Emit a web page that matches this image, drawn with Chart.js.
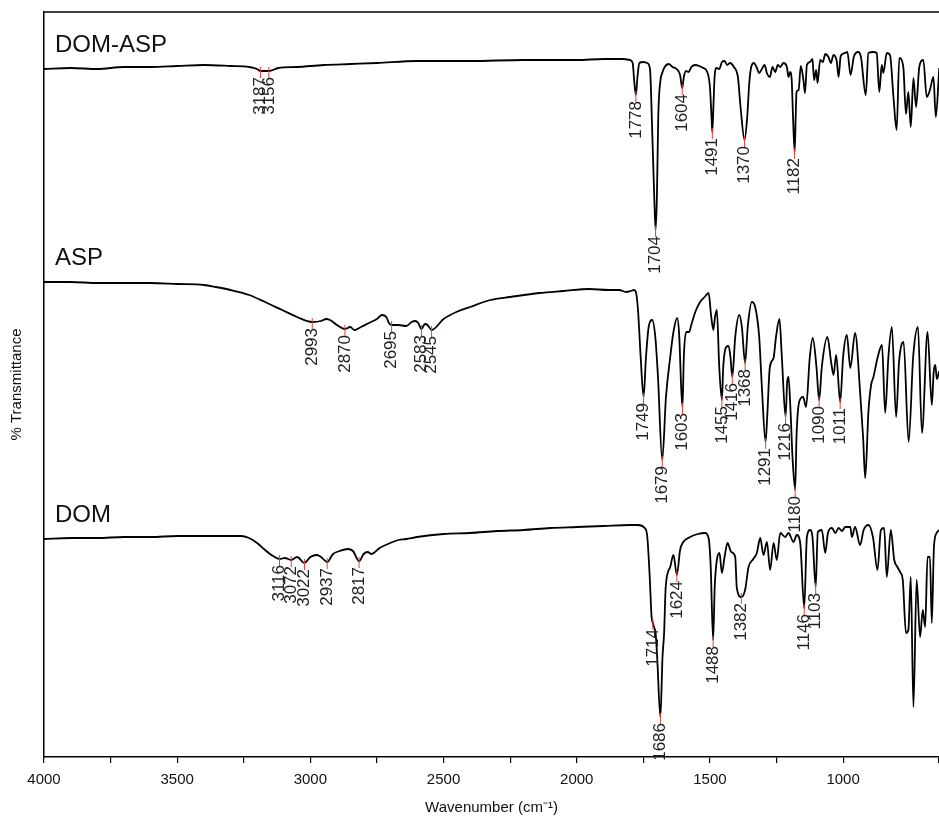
<!DOCTYPE html>
<html>
<head>
<meta charset="utf-8">
<script src="https://cdn.jsdelivr.net/npm/chart.js@4.4.1/dist/chart.umd.min.js"></script>
<style>
  body { margin: 0; background: #fff; }
  #wrap { width: 939px; height: 820px; }
</style>
</head>
<body>
<div id="wrap"><canvas id="ir" width="939" height="820"></canvas></div>
<script>
// offset-stacked IR spectra, y in arbitrary transmittance units
var seriesNames = ['DOM-ASP', 'ASP', 'DOM'];

var domAspWn = [4000,3900,3800,3700,3600,3500,3400,3300,3230,3200,3187,3170,3156,3120,3050,2950,2850,2750,2600,2400,2200,2000,1900,1830,1800,1790,1784,1778,1772,1765,1750,1735,1725,1716,1709,1704,1699,1694,1686,1679,1670,1655,1640,1625,1612,1604,1598,1590,1580,1570,1555,1540,1525,1510,1500,1494,1491,1487,1482,1475,1465,1455,1445,1435,1425,1410,1395,1385,1370,1360,1352,1345,1335,1325,1315,1305,1295,1285,1275,1265,1255,1245,
  1236,1224,1211,1205,1199,1193,1188,1182,1178,1175,1167,1159,1149,1143,1136,1124,1115,1109,1101,1096,1086,1076,1067,1055,1046,1036,1024,1017,1009,993,984,972,959,943,933,915,905,886,874,864,855,849,836,824,811,799,789,774,764,755,746,736,726,714,699,686,674,661,652,639];
var domAspT = [688,689,688,690,690,691,692,691,690,688,686,686,686,689,690,692,693,694,696,696,697,697,698,698,697,694,675,662,680,694,695,694,688,620,560,527,560,640,676,684,690,693,690,688,682,669,680,686,685,690,692,691,689,685,670,640,625,650,682,689,688,695,696,692,694,690,680,650,617,640,675,690,694,690,684,688,692,683,680,690,685,692,
  690,694,690,680,685,677,640,605,640,665,667,691,677,664,692,695,698,677,687,674,697,695,703,700,694,702,696,680,701,704,705,682,701,705,700,662,704,705,704,665,692,684,704,702,660,627,699,690,643,665,630,679,650,690,697,660,667,680,640,689];
var domAspPeaks = [3187, 3156, 1778, 1704, 1604, 1491, 1370, 1182];

var aspWn = [4000,3900,3800,3700,3600,3500,3400,3355,3300,3230,3170,3106,3050,2993,2960,2940,2926,2900,2870,2850,2835,2810,2780,2750,2731,2715,2705,2695,2670,2640,2620,2607,2595,2583,2570,2560,2545,2500,2452,2400,2325,2250,2141,2050,1953,1880,1840,1815,1796,1785,1778,1770,1760,1749,1740,1730,1717,1705,1695,1679,1665,1649,1637,1623,1615,1608,1603,1598,1589,1578,1570,1555,1537,1520,1505,1495,1487,1481,1474,1465,1455,1450,1439,1430,1423,1416,1405,1390,1380,1368,1358,1343,1330,1315,1305,1291,1285,1275,1261,1252,1239,1230,1216,1210,1205,1198,1190,1180,1175,1165,1150,1139,1125,1114,1100,1090,1080,1059,1045,1036,1026,1011,1000,986,973,955,935,925,917,905,895,886,870,854,842,830,817,801,790,773,754,737,719,704,683,667,660,654,648,639];
var aspT = [475,475,474,474,474,473,472,470,467,462,455,447,440,435,436,438,437,432,428,430,427,430,434,438,442,440,434,432,432,431,435,436,434,428,433,432,427,438,445,450,457,460,464,466,468,467,467,465,466,467,465,447,400,360,400,430,437,420,380,297,360,400,425,439,420,370,350,400,425,425,432,445,455,460,464,440,427,440,447,390,357,390,410,411,400,380,420,442,430,394,430,455,450,420,370,315,340,390,399,420,438,400,340,375,380,350,300,267,320,355,360,350,400,419,390,357,390,420,395,382,402,355,400,422,389,424,360,320,279,345,372,380,400,412,344,400,430,340,395,415,315,400,430,324,425,352,385,392,378,386];
var aspPeaks = [2993, 2870, 2695, 2583, 2545, 1749, 1679, 1603, 1455, 1416, 1368, 1291, 1216, 1180, 1090, 1011];

var domWn = [4000,3900,3800,3700,3600,3500,3400,3300,3261,3230,3200,3170,3140,3116,3095,3072,3050,3022,3000,2975,2960,2937,2915,2890,2860,2840,2817,2800,2785,2770,2740,2700,2670,2640,2600,2500,2400,2300,2200,2100,2000,1900,1800,1770,1745,1735,1726,1719,1714,1710,1704,1698,1686,1678,1672,1666,1649,1637,1624,1612,1600,1574,1545,1518,1505,1497,1488,1482,1474,1464,1455,1445,1434,1420,1405,1399,1382,1368,1355,1337,1324,1311,1299,1286,1274,1261,1249,
  1236,1217,1205,1186,1174,1161,1146,1136,1124,1115,1103,1095,1080,1067,1057,1042,1029,1017,1004,992,973,967,955,936,923,905,888,871,858,846,836,821,808,796,786,776,764,755,746,736,724,711,701,692,683,674,667,659,649,639];
var domT = [218,219,219,220,220,221,221,221,221,219,214,207,201,198,199,197,200,194,200,202,200,195,203,206,208,206,196,203,205,203,209,214,217,218,220,223,224,226,227,229,230,231,232,232,229,220,180,140,134,130,124,100,40,100,124,170,190,202,182,207,215,220,223,224,219,190,117,170,197,204,184,200,214,205,200,169,160,167,190,198,204,219,202,215,187,214,197,
  224,220,224,215,222,214,149,220,227,220,170,225,227,204,224,229,224,229,226,230,230,220,230,212,227,232,220,187,227,229,180,227,197,190,185,177,124,127,180,50,177,120,147,130,200,200,134,210,224,227];
var domPeaks = [3116, 3072, 3022, 2937, 2817, 1714, 1686, 1624, 1488, 1382, 1146, 1103];

var seriesWn = [domAspWn, aspWn, domWn];
var seriesT = [domAspT, aspT, domT];
var seriesPeaks = [domAspPeaks, aspPeaks, domPeaks];

var FONT = '"Liberation Sans", Arial, sans-serif';

function toPoints(wn, t)
{
  var pts = [];
  for (var i = 0; i < wn.length; i++) pts.push({x: wn[i], y: t[i]});
  return pts;
}

function valueAt(wn, t, w)
{
  for (var i = 0; i < wn.length - 1; i++) {
    if (wn[i] >= w && w >= wn[i + 1]) {
      var f = (wn[i] - w) / (wn[i] - wn[i + 1]);
      return t[i] + f * (t[i + 1] - t[i]);
    }
  }
  return t[t.length - 1];
}

var peakLabels = {
  id: 'peakLabels',
  afterDatasetsDraw: function(chart) {
    var ctx = chart.ctx;
    var x = chart.scales.x;
    var y = chart.scales.y;
    ctx.save();
    for (var i = 0; i < seriesNames.length; i++) {
      var peaks = seriesPeaks[i];
      for (var j = 0; j < peaks.length; j++) {
        var px = x.getPixelForValue(peaks[j]);
        var py = y.getPixelForValue(valueAt(seriesWn[i], seriesT[i], peaks[j]));
        ctx.strokeStyle = '#e8413c';
        ctx.lineWidth = 1;
        ctx.beginPath();
        ctx.moveTo(px, py - 4);
        ctx.lineTo(px, py + 7);
        ctx.stroke();
        ctx.save();
        ctx.translate(px, py + 6);
        ctx.rotate(-Math.PI / 2);
        ctx.fillStyle = '#222';
        ctx.font = '17px ' + FONT;
        ctx.textAlign = 'right';
        ctx.textBaseline = 'middle';
        ctx.fillText(String(peaks[j]), 0, 0);
        ctx.restore();
      }
      var firstY = y.getPixelForValue(seriesT[i][0]);
      ctx.fillStyle = '#111';
      ctx.font = '24px ' + FONT;
      ctx.textAlign = 'left';
      ctx.textBaseline = 'alphabetic';
      ctx.fillText(seriesNames[i], x.left + 11, firstY - 17);
    }
    // top frame line
    ctx.strokeStyle = '#000';
    ctx.lineWidth = 1.5;
    ctx.beginPath();
    ctx.moveTo(x.left, y.top);
    ctx.lineTo(x.right, y.top);
    ctx.stroke();
    ctx.restore();
  }
};

var datasets = [];
for (var i = 0; i < seriesNames.length; i++) {
  datasets.push({
    label: seriesNames[i],
    data: toPoints(seriesWn[i], seriesT[i]),
    borderColor: '#000',
    borderWidth: 1.8,
    pointRadius: 0,
    showLine: true,
    cubicInterpolationMode: 'monotone'
  });
}

var ctx = document.getElementById('ir');
var irChart = new Chart(ctx, {
  type: 'scatter',
  data: { datasets: datasets },
  options: {
    responsive: false,
    animation: false,
    layout: { padding: { top: 12, right: 0, left: 0, bottom: 0 } },
    plugins: {
      legend: { display: false },
      tooltip: { enabled: false }
    },
    scales: {
      x: {
        type: 'linear',
        reverse: true,
        min: 640,
        max: 4000,
        afterFit: function(scale) {
          scale.height = 63;
          scale.paddingLeft = 0;
          scale.paddingRight = 0;
        },
        border: { display: true, color: '#000', width: 1.5 },
        grid: { display: true, drawOnChartArea: false, drawTicks: true, tickLength: 6, color: '#000', lineWidth: 1.2 },
        ticks: {
          stepSize: 250,
          padding: 8,
          color: '#111',
          font: { family: FONT, size: 15 },
          maxRotation: 0,
          autoSkip: false,
          callback: function(v) { return v % 500 === 0 ? String(v) : ''; }
        },
        title: {
          display: true,
          text: 'Wavenumber (cm\u207B\u00B9)',
          color: '#111',
          font: { family: FONT, size: 15 },
          padding: { top: 4, bottom: 3 }
        }
      },
      y: {
        min: 0,
        max: 745,
        afterFit: function(scale) { scale.width = 44; },
        border: { display: true, color: '#000', width: 1.5 },
        grid: { display: false },
        ticks: { display: false },
        title: {
          display: true,
          text: '% Transmittance',
          color: '#111',
          font: { family: FONT, size: 15 },
          padding: { top: 8, bottom: 0 }
        }
      }
    }
  },
  plugins: [peakLabels]
});
</script>
</body>
</html>
